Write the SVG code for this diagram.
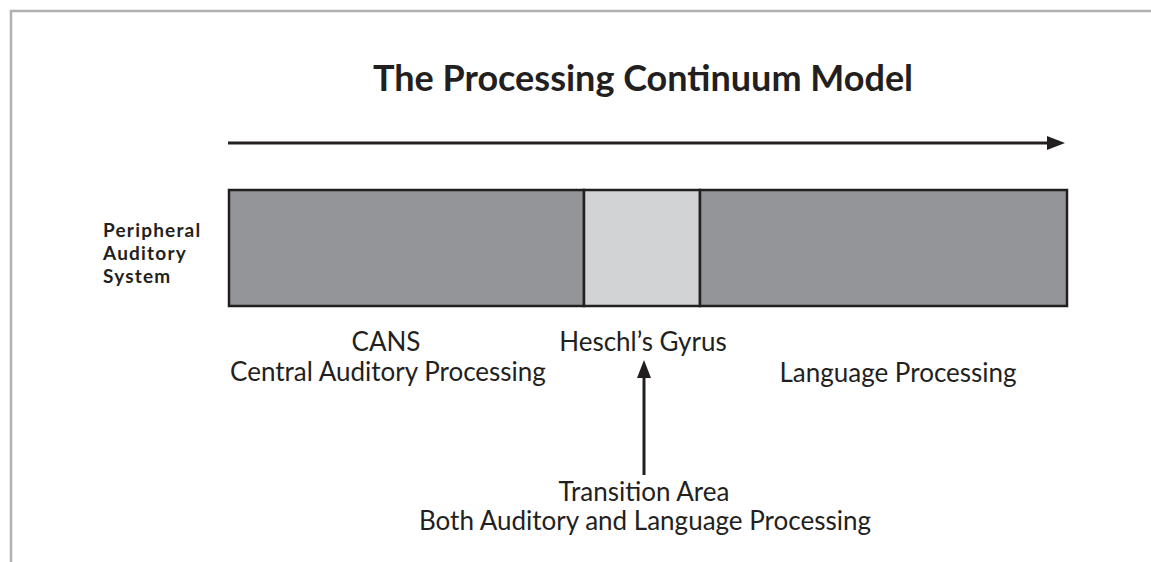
<svg xmlns="http://www.w3.org/2000/svg" width="1151" height="562" viewBox="0 0 1151 562">
<style>
.lbl{font-family:Lato,"Open Sans","Liberation Sans",sans-serif;font-size:26px;fill:#231f20;text-anchor:middle}
.bold{font-family:Lato,"Open Sans","Liberation Sans",sans-serif;font-weight:bold;fill:#231f20}
.seg{stroke:#231f20;stroke-width:2.5}
.conn{stroke:#231f20;stroke-width:3;fill:none}
</style>
<rect width="1151" height="562" fill="#ffffff"/>
<path d="M11,562 V11 H1151" fill="none" stroke="#b1b1b3" stroke-width="2.5"/>
<g id="title">
<text class="bold" x="643" y="91" font-size="36" text-anchor="middle">The Processing Continuum Model</text>
</g>
<g id="peripheral">
<text class="bold" font-size="19" letter-spacing="1.2"><tspan x="103" y="237">Peripheral</tspan><tspan x="103" y="260">Auditory</tspan><tspan x="103" y="283">System</tspan></text>
</g>
<g id="cans-bar">
<rect class="seg" x="229" y="190" width="355" height="116" fill="#939598"/>
</g>
<g id="heschl-bar">
<rect class="seg" x="584" y="190" width="116" height="116" fill="#d1d3d4"/>
</g>
<g id="language-bar">
<rect class="seg" x="700" y="190" width="367" height="116" fill="#939598"/>
</g>
<g id="cans-label">
<text class="lbl" x="386" y="351">CANS</text>
<text class="lbl" x="388" y="381">Central Auditory Processing</text>
</g>
<g id="heschl-label">
<text class="lbl" x="643" y="351">Heschl’s Gyrus</text>
</g>
<g id="language-label">
<text class="lbl" x="898" y="382">Language Processing</text>
</g>
<g id="transition-label">
<text class="lbl" x="644" y="501">Transition Area</text>
<text class="lbl" x="645" y="530">Both Auditory and Language Processing</text>
</g>
<g id="connectors">
<line class="conn" x1="228" y1="143" x2="1050" y2="143"/>
<polygon points="1047,136 1065,143 1047,150" fill="#231f20"/>
<line class="conn" x1="644" y1="475" x2="644" y2="374"/>
<polygon points="637,378 644,360 651,378" fill="#231f20"/>
</g>
</svg>
